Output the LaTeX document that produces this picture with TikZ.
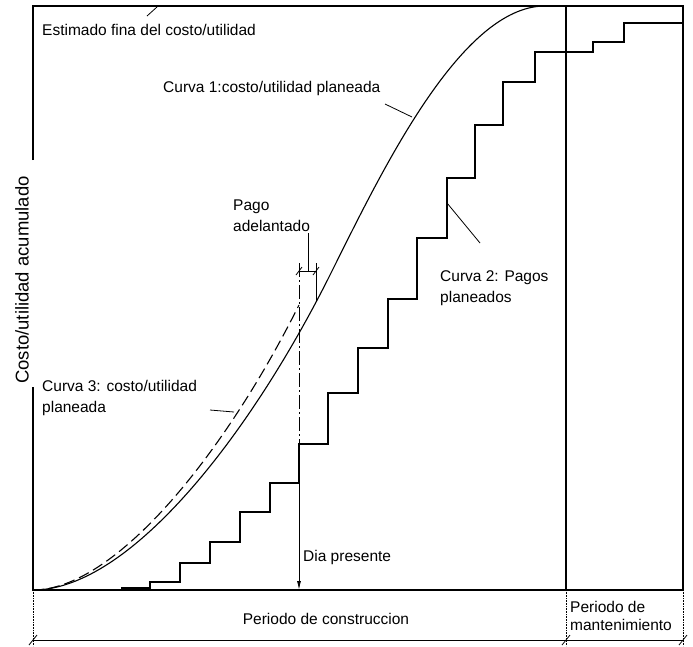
\documentclass[tikz,border=0pt]{standalone}
\usepackage{fontspec}
\setmainfont{Liberation Sans}
\usetikzlibrary{arrows.meta}

\begin{document}
\begin{tikzpicture}[
    x=1pt, y=-1pt,
    every node/.style={inner sep=0pt, align=left, font=\fontsize{15.5}{21}\selectfont},
    frame line/.style={draw, line width=1.1pt},
    curve line/.style={draw, line width=1.1pt},
    leader line/.style={draw, line width=0.8pt},
    dim line/.style={draw, line width=0.8pt},
    ext line/.style={draw, line width=0.6pt, densely dotted},
    dashdot line/.style={draw, line width=0.9pt, dash pattern=on 14pt off 3pt on 2pt off 3pt},
    ]
\useasboundingbox (0,0) rectangle (693,646);
% marco y periodos
\draw[frame line] (33,160) -- (33,6) -- (683,6) -- (683,590) -- (33,590) -- (33,387);
\draw[frame line] (566,6) -- (566,590);
% curva 1
\draw[curve line] (33,590) .. controls (130,590) and (250,435) .. (330,275)
    .. controls (380,175) and (460,6) .. (545,6);
% curva 3
\draw[curve line, dash pattern=on 11pt off 5pt] (33,590) .. controls (115,590) and (224,455) .. (299,305);
% curva 2
\draw[curve line] (122,590) -- (122,588) -- (150,588) -- (150,582) -- (180,582) -- (180,563)
    -- (210,563) -- (210,542) -- (240,542) -- (240,512) -- (270,512) -- (270,483)
    -- (299,483) -- (299,444) -- (328,444) -- (328,393) -- (358,393) -- (358,348)
    -- (388,348) -- (388,299) -- (417,299) -- (417,238) -- (447,238) -- (447,178)
    -- (475,178) -- (475,125) -- (503,125) -- (503,82) -- (535,82) -- (535,52)
    -- (593,52) -- (593,42) -- (624,42) -- (624,23) -- (683,23);
% dia presente
\coordinate (hoyTop) at (299,263);
\coordinate (hoyStep) at (299,483);
\coordinate (hoy) at (299,590);
\draw[dashdot line] (hoyTop) -- (299,444);
\draw[line width=0.9pt, -{Latex[length=9pt,width=4pt]}] (hoyStep) -- (hoy);
\node[anchor=west] (dia) at (303,557) {Dia presente};
% pago adelantado
\coordinate (pagoL) at (299,271);
\coordinate (pagoR) at (316,271);
\coordinate (pagoM) at (308,271);
\coordinate (pagoC) at (316,302);
\draw[dim line] (pagoL) -- (pagoR);
\draw[dim line] (316,263) -- (pagoC);
\foreach \x in {299,316}
    \draw[dim line] (\x-3,275) -- (\x+3,267);
\node[anchor=west] (pago) at (233,216) {Pago\\adelantado};
\coordinate (pagoT) at (308,233);
\draw[leader line] (pagoT) -- (pagoM);
% etiquetas
\node[anchor=west] (est) at (42,30) {Estimado fina del costo/utilidad};
\coordinate (estA) at (147,16);
\coordinate (estB) at (157,7);
\draw[leader line] (estA) -- (estB);
\node[anchor=west] (c1) at (163,88) {Curva 1:costo/utilidad planeada};
\coordinate (c1A) at (385,104);
\coordinate (c1B) at (412,117);
\draw[leader line] (c1A) -- (c1B);
\node[anchor=west] (c2) at (440,288) {Curva 2: Pagos\\planeados};
\coordinate (c2A) at (480,243);
\coordinate (c2B) at (447,203);
\draw[leader line] (c2A) -- (c2B);
\node[anchor=west] (c3) at (42,398) {Curva 3: costo/utilidad\\planeada};
\coordinate (c3A) at (210,410);
\coordinate (c3B) at (234,412);
\draw[leader line] (c3A) -- (c3B);
\node[rotate=90, font=\fontsize{18.5}{22}\selectfont] (ylab) at (22,280) {Costo/utilidad acumulado};
% periodos
\foreach \x in {33,566,683}
    \draw[ext line] (\x,590) -- (\x,646);
\coordinate (p0) at (33,640);
\coordinate (p1) at (566,640);
\coordinate (p2) at (683,640);
\draw[dim line] (p0) -- (p1) -- (p2);
\foreach \x in {33,566,683}
    \draw[dim line] (\x-4,645) -- (\x+4,635);
\node (constr) at (326,619) {Periodo de construccion};
\node[anchor=west, font=\fontsize{15.5}{18}\selectfont] (mant) at (570,616) {Periodo de\\mantenimiento};
\end{tikzpicture}
\end{document}
